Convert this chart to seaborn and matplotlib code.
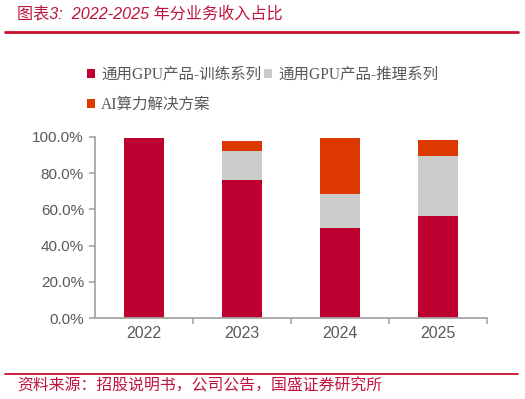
import matplotlib
matplotlib.use("Agg")
import matplotlib.pyplot as plt
import seaborn as sns
import pandas as pd
import numpy as np
from matplotlib.patches import Patch
from matplotlib.lines import Line2D
from matplotlib.ticker import PercentFormatter, FixedLocator

sns.set_theme(style="white")
plt.rcParams['font.family'] = ['Liberation Sans', 'Noto Sans CJK SC', 'DejaVu Sans']

years = ["2022", "2023", "2024", "2025"]
series_names = ["通用GPU产品-训练系列", "通用GPU产品-推理系列", "AI算力解决方案"]
training = [99.6, 76.2, 49.7, 56.4]
inference = [0.0, 16.1, 18.8, 33.1]
solutions = [0.0, 5.5, 30.9, 8.8]
colors = ["#BE0031", "#CBCBCB", "#DC3800"]

title = "图表3:  2022-2025 年分业务收入占比"
source = "资料来源：招股说明书，公司公告，国盛证券研究所"

df = pd.DataFrame({"year": years, "training": training,
                   "inference": inference, "solutions": solutions})
df["c1"] = df["training"] / 100
df["c2"] = (df["training"] + df["inference"]) / 100
df["c3"] = (df["training"] + df["inference"] + df["solutions"]) / 100

fig = plt.figure(figsize=(5.25, 3.99), dpi=100)
ax = fig.add_axes([95/525, 1-318/399, (487-95)/525, (318-137)/399])

for col, c in zip(["c3", "c2", "c1"], colors[::-1]):
    sns.barplot(data=df, x="year", y=col, color=c, width=0.4, ax=ax,
                saturation=1, errorbar=None, linewidth=0)

ax.set_ylim(0, 1)
ax.set_xlim(-0.5, 3.5)
ax.set_xlabel("")
ax.set_ylabel("")
ax.yaxis.set_major_formatter(PercentFormatter(1.0, decimals=1))
ax.set_yticks(np.linspace(0, 1, 6))

axis_col = "#A6A6A6"
for s in ["top", "right"]:
    ax.spines[s].set_visible(False)
for s in ["left", "bottom"]:
    ax.spines[s].set_color(axis_col)
    ax.spines[s].set_linewidth(1.3)

ax.tick_params(axis="y", which="major", direction="out", length=4, width=1.2,
               color=axis_col, labelsize=11, labelcolor="#595959", left=True, pad=4)
ax.tick_params(axis="x", which="major", length=0, labelsize=11.5,
               labelcolor="#595959", pad=6)
ax.xaxis.set_minor_locator(FixedLocator([0.5, 1.5, 2.5, 3.5]))
ax.tick_params(axis="x", which="minor", direction="out", length=4, width=1.2,
               color=axis_col, bottom=True)

handles = [Patch(facecolor=c, edgecolor="none") for c in colors]
order = [0, 2, 1]
leg = fig.legend([handles[i] for i in order], [series_names[i] for i in order],
                 ncol=2, loc="upper left", bbox_to_anchor=(73/525, 1-53/399),
                 frameon=False, handlelength=0.5, handleheight=0.5,
                 handletextpad=0.4, columnspacing=0.2, labelspacing=0.9,
                 prop={"family": ["Liberation Serif", "Noto Sans CJK SC"], "size": 11.2})
for t in leg.get_texts():
    t.set_color("#595959")

red = "#C0143C"
fig.text(17/525, 1-14/399, title, color=red, fontsize=11.6, fontstyle="italic",
         va="center", ha="left", family=["Liberation Sans", "Noto Sans CJK SC"])
fig.add_artist(Line2D([5/525, 518/525], [1-32/399, 1-32/399], color="#C8102E",
                      linewidth=2.0, transform=fig.transFigure))
fig.add_artist(Line2D([5/525, 518/525], [1-374/399, 1-374/399], color="#C8102E",
                      linewidth=1.3, transform=fig.transFigure))
fig.text(17/525, 1-386/399, source, color=red, fontsize=11.4, fontstyle="italic",
         va="center", ha="left", family=["Liberation Sans", "Noto Sans CJK SC"])

fig.savefig("out.png", dpi=100)
